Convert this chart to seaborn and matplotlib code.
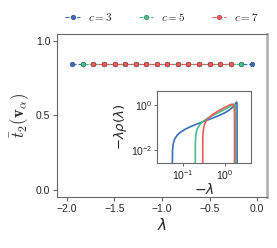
import matplotlib
matplotlib.use('Agg')
import matplotlib.pyplot as plt
import seaborn as sns
from matplotlib.font_manager import FontProperties

sns.set_style('ticks')
plt.rcParams['font.family'] = ['Liberation Sans', 'DejaVu Sans']
plt.rcParams['mathtext.fontset'] = 'dejavusans'

# main panel: t2 bar per eigenvalue, one series per degree c
lam_c3 = [-1.943, -1.832, -1.721, -1.610, -1.499, -1.388, -1.277, -1.167, -1.056,
          -0.945, -0.834, -0.723, -0.612, -0.501, -0.390, -0.279, -0.168, -0.057]
t2_c3 = [0.846] * 18
lam_c5 = [-1.832, -1.721, -1.610, -1.499, -1.388, -1.277, -1.167, -1.056,
          -0.945, -0.834, -0.723, -0.612, -0.501, -0.390, -0.279, -0.168]
t2_c5 = [0.846] * 16
lam_c7 = [-1.721, -1.610, -1.499, -1.388, -1.277, -1.167, -1.056,
          -0.945, -0.834, -0.723, -0.612, -0.501, -0.390, -0.279]
t2_c7 = [0.846] * 14

# inset: -lambda * rho(lambda) against -lambda
x_c3 = [0.0572, 0.058, 0.06, 0.065, 0.075, 0.09, 0.12, 0.16, 0.22, 0.3, 0.4, 0.55,
        0.75, 1.0, 1.25, 1.5, 1.7, 1.8, 1.87, 1.91, 1.93, 1.94, 1.9428]
y_c3 = [0.001, 0.0096, 0.0179, 0.0299, 0.0452, 0.0616, 0.0859, 0.1111, 0.1421, 0.1774,
        0.2170, 0.2728, 0.3472, 0.4502, 0.5787, 0.7633, 1.0052, 1.1910, 1.3343, 1.308,
        1.0565, 0.5788, 0.001]
x_c5 = [0.2, 0.201, 0.203, 0.207, 0.215, 0.23, 0.26, 0.3, 0.4, 0.55, 0.75, 1.0,
        1.25, 1.5, 1.65, 1.73, 1.77, 1.79, 1.8]
y_c5 = [0.001, 0.0177, 0.0307, 0.0469, 0.0687, 0.0976, 0.1390, 0.1813, 0.2632, 0.3630,
        0.4838, 0.6366, 0.8063, 0.9939, 1.0603, 0.9645, 0.7509, 0.4778, 0.001]
x_c7 = [0.3002, 0.301, 0.303, 0.307, 0.315, 0.33, 0.36, 0.4, 0.5, 0.65, 0.8, 1.0,
        1.2, 1.4, 1.55, 1.63, 1.67, 1.69, 1.6998]
y_c7 = [0.001, 0.0227, 0.0415, 0.0643, 0.0948, 0.1349, 0.1924, 0.2509, 0.3637, 0.5001,
        0.6226, 0.7797, 0.9340, 1.0663, 1.0714, 0.9177, 0.6827, 0.4206, 0.001]

labels = ['$c=3$', '$c=5$', '$c=7$']
colors = ['#3a6db5', '#4dbd85', '#ec5b5b']
edges = ['#24477a', '#2f7d55', '#a83636']

fig = plt.figure(figsize=(2.77, 2.48), dpi=100)
ax = fig.add_axes([0.207, 0.206, 0.756, 0.657])

for lam, t2, lab, col, ec in zip([lam_c3, lam_c5, lam_c7], [t2_c3, t2_c5, t2_c7],
                                 labels, colors, edges):
    sns.lineplot(x=lam, y=t2, ax=ax, color=col, linestyle='--', linewidth=0.8,
                 marker='o', markersize=3.3, markeredgecolor=ec, markeredgewidth=0.4,
                 label=lab, legend=False, estimator=None, sort=False)

ax.set_xlim(-2.1, 0.1)
ax.set_ylim(-0.05, 1.05)
ax.set_xticks([-2.0, -1.5, -1.0, -0.5, 0.0])
ax.set_yticks([0.0, 0.5, 1.0])
ax.tick_params(length=3, width=0.8, color='#666666', labelsize=7.5, pad=2)
for s in ['left', 'bottom', 'top']:
    ax.spines[s].set_color('#6a6a6a')
    ax.spines[s].set_linewidth(0.8)
ax.spines['right'].set_color('#b4b4b4')
ax.spines['right'].set_linewidth(2.0)
ax.set_xlabel(r'$\lambda$', fontsize=11, labelpad=2)
ax.set_ylabel(r'$\bar{t}_2(\mathbf{v}_\alpha)$', fontsize=12, labelpad=3,
              math_fontfamily='cm')

handles, _ = ax.get_legend_handles_labels()
fig.legend(handles, labels, loc='center', bbox_to_anchor=(0.585, 0.93), ncol=3,
           frameon=False, prop=FontProperties(size=8, math_fontfamily='cm'),
           handlelength=1.3, columnspacing=2.4, handletextpad=0.7)

# inset
axins = fig.add_axes([0.567, 0.343, 0.34, 0.291])
axins.set_xscale('log')
axins.set_yscale('log')
for xs, ys, col in zip([x_c3, x_c5, x_c7], [y_c3, y_c5, y_c7], colors):
    sns.lineplot(x=xs, y=ys, ax=axins, color=col, linewidth=1.2,
                 estimator=None, sort=False)
axins.set_xlim(0.025, 4.2)
axins.set_ylim(0.0026, 4.3)
axins.set_xticks([0.1, 1.0])
axins.set_yticks([0.01, 1.0])
axins.minorticks_off()
axins.tick_params(length=2, width=0.7, color='#666666', labelsize=7.5, pad=1.5)
for s in axins.spines.values():
    s.set_color('#6a6a6a')
    s.set_linewidth(0.8)
axins.set_xlabel(r'$-\lambda$', fontsize=10, labelpad=0)
axins.set_ylabel(r'$-\lambda\rho(\lambda)$', fontsize=9.5, labelpad=1)

fig.savefig('out.png', dpi=100)
